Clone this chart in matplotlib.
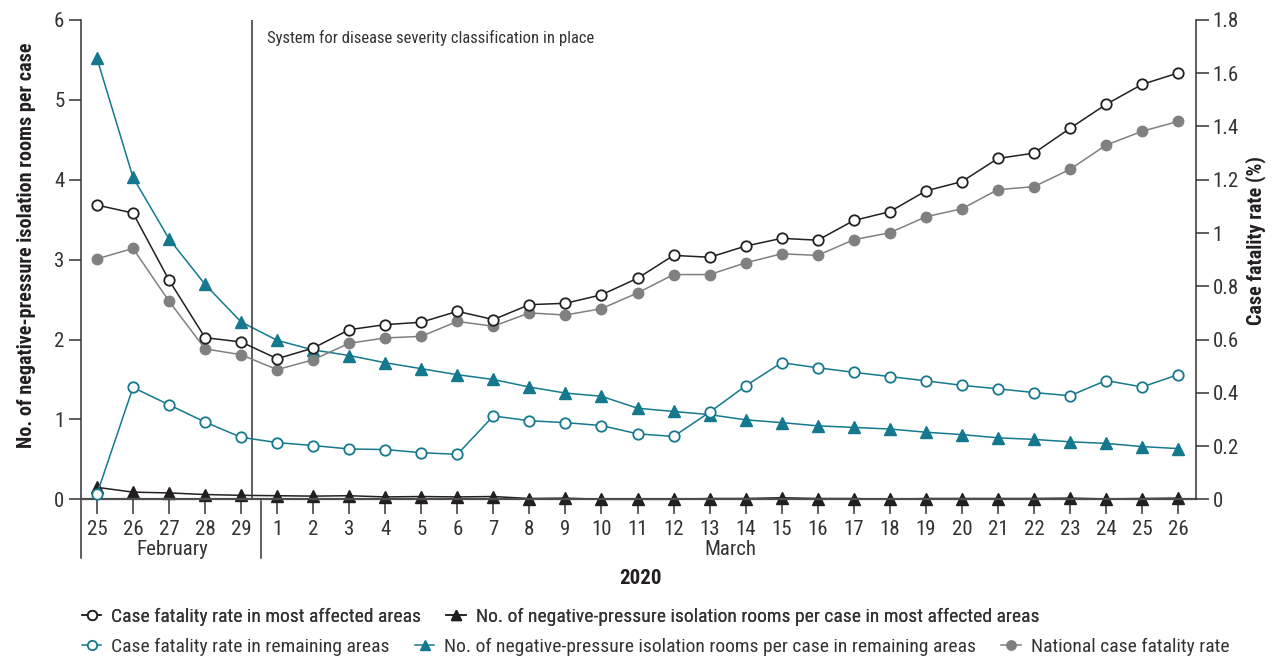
import numpy as np
import matplotlib.pyplot as plt
from matplotlib.ticker import FuncFormatter

plt.rcParams['font.family'] = ['Roboto Condensed', 'DejaVu Sans Condensed', 'Liberation Sans Narrow',
                               'Roboto', 'DejaVu Sans']

# x axis: 25 Feb - 26 Mar 2020
days = ['25', '26', '27', '28', '29'] + [str(d) for d in range(1, 27)]

# case fatality rate (%), right axis
cfr_most = [1.105, 1.075, 0.823, 0.607, 0.591, 0.528, 0.568, 0.637, 0.656, 0.665,
            0.706, 0.675, 0.731, 0.736, 0.768, 0.830, 0.916, 0.909, 0.951, 0.980,
            0.973, 1.047, 1.080, 1.158, 1.193, 1.280, 1.300, 1.393, 1.483, 1.558, 1.601]
cfr_remaining = [0.020, 0.420, 0.355, 0.290, 0.233, 0.213, 0.202, 0.189, 0.187, 0.175,
                 0.169, 0.313, 0.295, 0.288, 0.277, 0.246, 0.236, 0.327, 0.426, 0.513,
                 0.494, 0.477, 0.461, 0.445, 0.428, 0.415, 0.401, 0.389, 0.446, 0.422, 0.468]
cfr_national = [0.903, 0.942, 0.744, 0.565, 0.543, 0.487, 0.524, 0.586, 0.606, 0.612,
                0.668, 0.650, 0.700, 0.692, 0.716, 0.775, 0.844, 0.844, 0.888, 0.922,
                0.916, 0.975, 1.001, 1.061, 1.091, 1.163, 1.174, 1.239, 1.330, 1.382, 1.419]

# negative-pressure isolation rooms per case, left axis
rooms_most = [0.15, 0.09, 0.08, 0.06, 0.05, 0.045, 0.04, 0.045, 0.03, 0.035,
              0.03, 0.035, 0.01, 0.015, 0.0, 0.0, 0.0, 0.01, 0.01, 0.02,
              0.01, 0.01, 0.0, 0.01, 0.01, 0.01, 0.01, 0.015, 0.005, 0.01, 0.015]
rooms_remaining = [5.52, 4.03, 3.26, 2.69, 2.22, 1.99, 1.87, 1.80, 1.71, 1.635,
                   1.56, 1.50, 1.405, 1.33, 1.29, 1.14, 1.10, 1.06, 0.995, 0.96,
                   0.92, 0.90, 0.88, 0.84, 0.81, 0.77, 0.75, 0.72, 0.70, 0.66, 0.635]

teal = '#14798e'
grey = '#808080'
dark = '#231f20'
axc = '#333333'

x = np.arange(len(days))

fig = plt.figure(figsize=(12.73, 6.57), dpi=100)
ax = fig.add_axes([0.0636, 0.240, 0.876, 0.7296])
ax2 = ax.twinx()

h_rr, = ax.plot(x, rooms_remaining, color=teal, lw=1.1, marker='^', ms=8.5,
                mfc=teal, mec=teal, label='No. of negative-pressure isolation rooms per case in remaining areas')
h_rm, = ax.plot(x, rooms_most, color=dark, lw=1.1, marker='^', ms=8.5, clip_on=False,
                mfc=dark, mec=dark, label='No. of negative-pressure isolation rooms per case in most affected areas')
h_nat, = ax2.plot(x, cfr_national, color=grey, lw=1.1, marker='o', ms=7.5,
                  mfc=grey, mec=grey, label='National case fatality rate')
h_cr, = ax2.plot(x, cfr_remaining, color=teal, lw=1.1, marker='o', ms=7.5, clip_on=False,
                 mfc='white', mec=teal, mew=1.3, label='Case fatality rate in remaining areas')
h_cm, = ax2.plot(x, cfr_most, color=dark, lw=1.1, marker='o', ms=7.5,
                 mfc='white', mec=dark, mew=1.3, label='Case fatality rate in most affected areas')

ax.set_xlim(-0.444, 30.5)
ax.set_ylim(0, 6)
ax2.set_ylim(0, 1.8)

ax.set_xticks(x)
ax.set_xticklabels(days)
ax.set_yticks(range(7))
ax2.set_yticks(np.arange(0, 1.81, 0.2))
ax2.yaxis.set_major_formatter(FuncFormatter(lambda v, p: '%g' % round(v, 1)))

for a in (ax, ax2):
    a.spines['top'].set_visible(False)
    for s in a.spines.values():
        s.set_color(axc)
        s.set_linewidth(1.1)
ax2.spines['left'].set_visible(False)
ax2.spines['bottom'].set_visible(False)
ax.spines['right'].set_visible(False)
ax.spines['bottom'].set_linewidth(1.6)
ax.spines['bottom'].set_color('#4d4d4d')

ax.tick_params(axis='x', length=11, width=1.1, color=axc, labelsize=15,
               labelcolor=axc, pad=4)
ax.tick_params(axis='y', length=9, width=1.1, color=axc, labelsize=15,
               labelcolor=axc, pad=3)
ax2.tick_params(axis='y', length=9, width=1.1, color=axc, labelsize=15,
                labelcolor=axc, pad=3)

# start of severity classification
ax.axvline(4.3, color=axc, lw=1.1)
ax.text(4.72, 5.78, 'System for disease severity classification in place',
        fontsize=12, color=axc, va='center')

# month brackets under the axis
trans = ax.get_xaxis_transform()
ax.plot([-0.444, -0.444], [0, -0.1225], transform=trans, color=axc, lw=1.1, clip_on=False)
ax.plot([4.54, 4.54], [-0.004, -0.1225], transform=trans, color=axc, lw=1.1, clip_on=False)
ax.text(2.08, -0.104, 'February', transform=trans, ha='center', va='center',
        fontsize=15, color=axc)
ax.text(17.57, -0.104, 'March', transform=trans, ha='center', va='center',
        fontsize=15, color=axc)

fig.text(640 / 1273, 1 - 578 / 657, '2020', ha='center', va='center',
         fontsize=15, fontweight='bold', color=dark)
fig.text(27 / 1273, 1 - 245 / 657, 'No. of negative-pressure isolation rooms per case',
         rotation=90, ha='center', va='center', fontsize=14.5, fontweight='bold', color=dark)
fig.text(1256 / 1273, 1 - 241 / 657, 'Case fatality rate (%)',
         rotation=90, ha='center', va='center', fontsize=14.5, fontweight='bold', color=dark)

leg_kw = dict(frameon=False, loc='center left', fontsize=14, handlelength=1.0,
              handletextpad=0.5, columnspacing=1.3, borderpad=0, borderaxespad=0,
              labelcolor=axc, markerscale=0.9)
leg1 = fig.legend([h_cm, h_rm], [h_cm.get_label(), h_rm.get_label()], ncol=2,
                  bbox_to_anchor=(82 / 1273, 1 - 617 / 657), **leg_kw)
leg2 = fig.legend([h_cr, h_rr, h_nat], [h_cr.get_label(), h_rr.get_label(), h_nat.get_label()],
                  ncol=3, bbox_to_anchor=(82 / 1273, 1 - 647 / 657), **leg_kw)
fig.add_artist(leg1)

fig.savefig('out.png', dpi=100)
